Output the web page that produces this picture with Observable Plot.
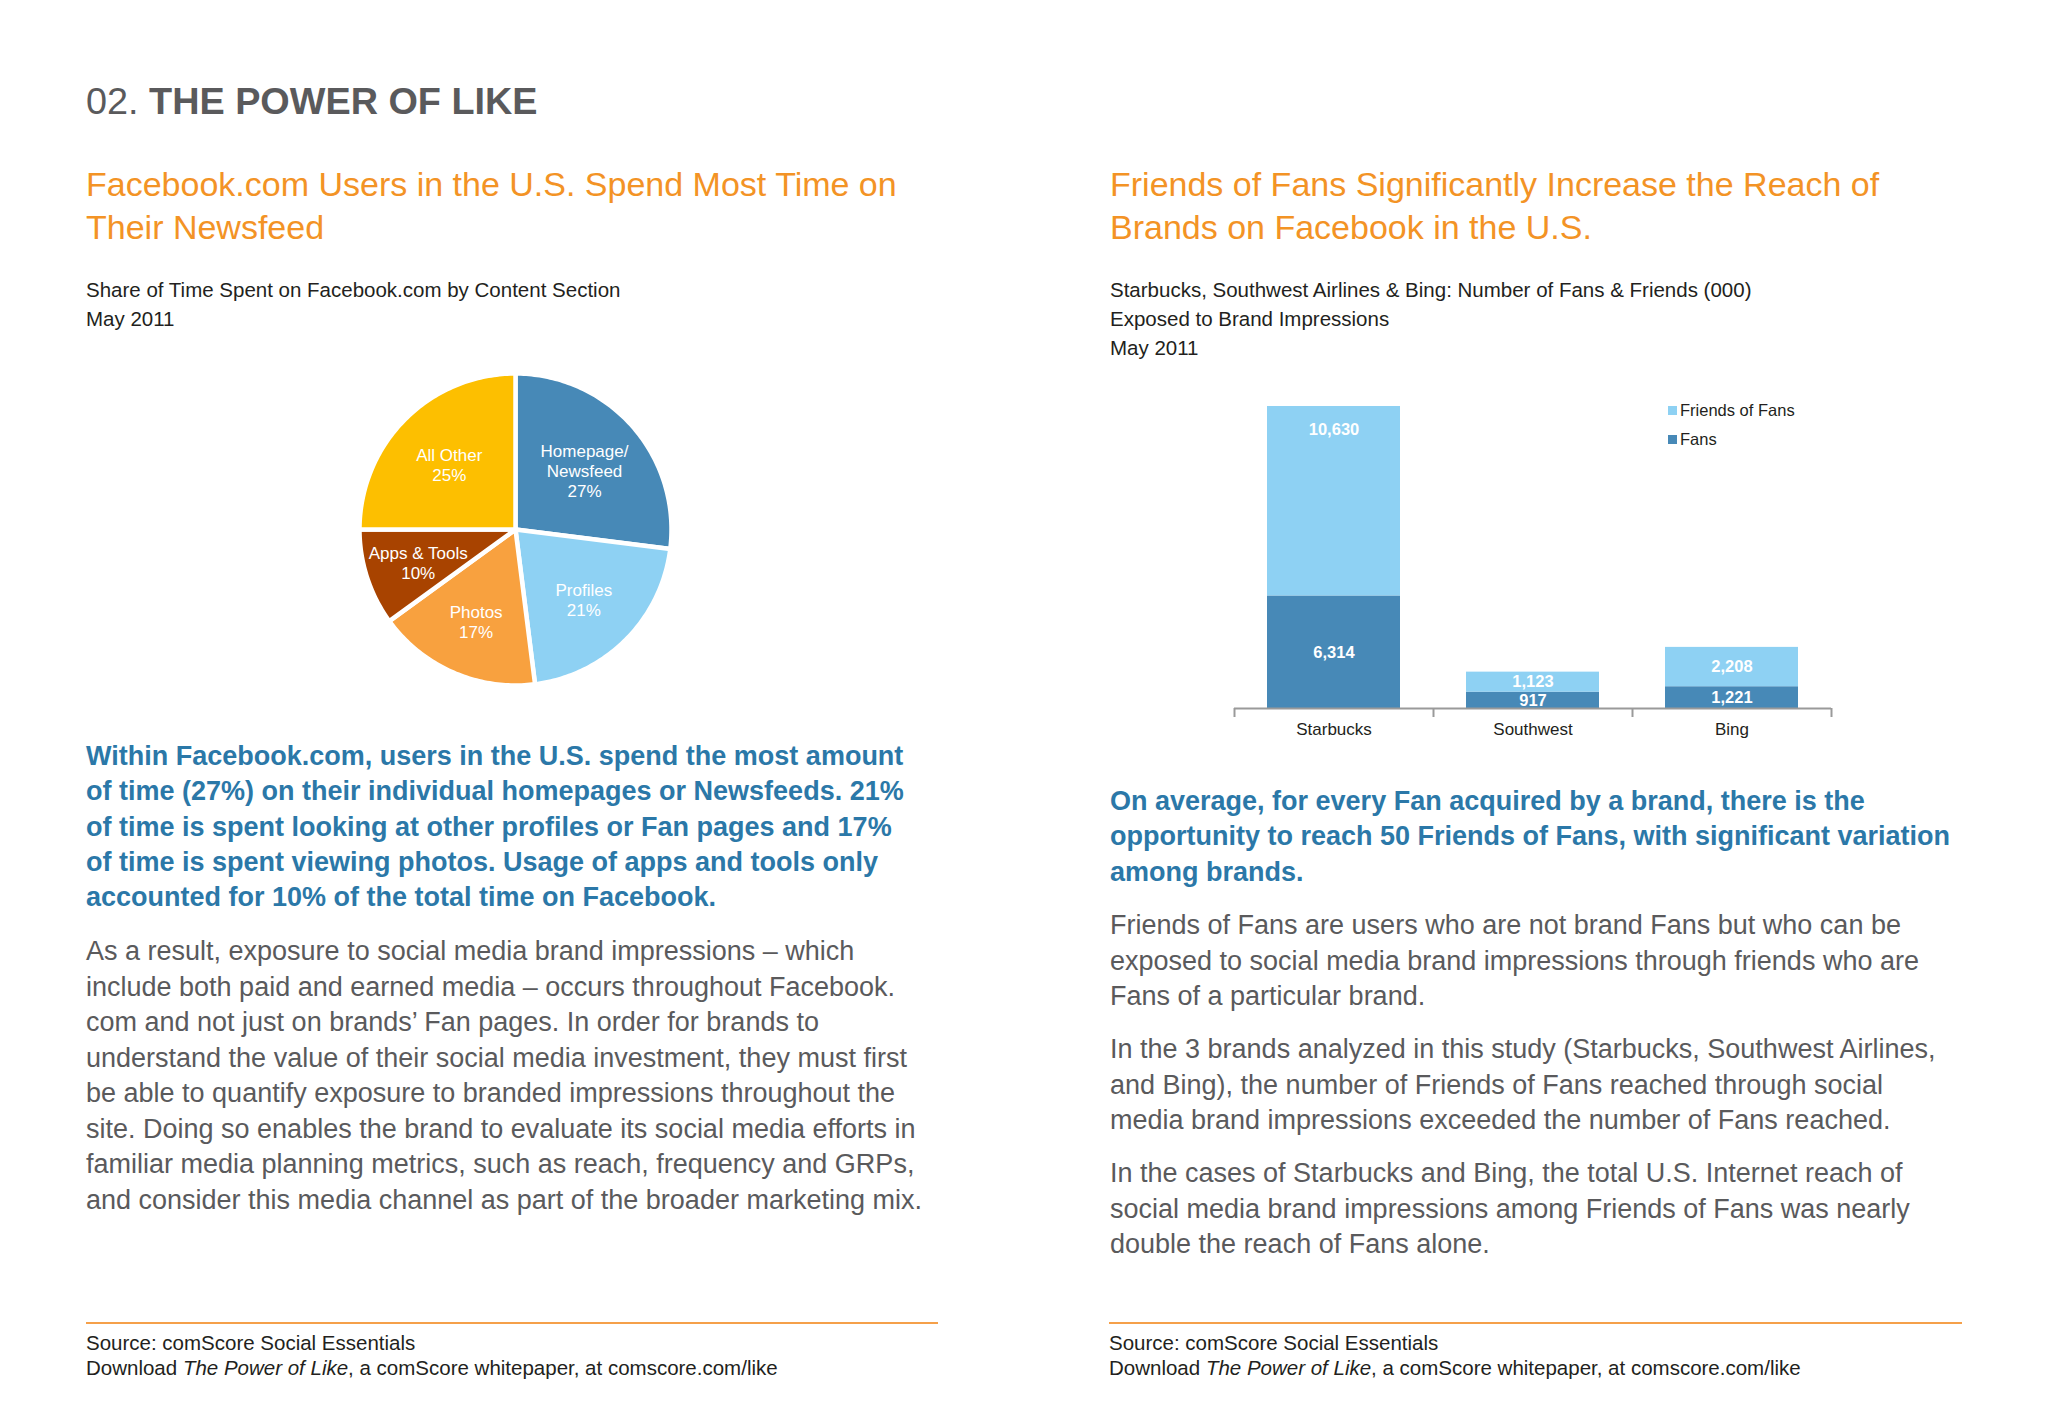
<!DOCTYPE html>
<html><head><meta charset="utf-8">
<script src="https://cdn.jsdelivr.net/npm/d3@7"></script>
<script src="https://cdn.jsdelivr.net/npm/@observablehq/plot@0.6"></script>
<style>
html,body{margin:0;padding:0;background:#fff;}
#page{position:relative;width:2048px;height:1408px;overflow:hidden;font-family:"Liberation Sans",Arial,Helvetica,sans-serif;background:#fff;}
.t{position:absolute;white-space:nowrap;}
.hdr{left:86px;top:79px;font-size:37.8px;line-height:44px;color:#5a5a5c;}
.hdr b{font-weight:700;}
.title{font-size:34px;line-height:43px;color:#f39325;top:163px;}
.sub{font-size:20.5px;line-height:29px;color:#231f20;top:275px;}
.lead{font-size:27px;line-height:35.3px;color:#2b78a8;font-weight:700;}
.body{font-size:27px;line-height:35.5px;color:#5a5a5c;}
.rule{position:absolute;top:1322px;height:2px;background:#f5a04a;}
.src{font-size:20.5px;line-height:25px;color:#231f20;top:1330px;}
.legend{position:absolute;font-size:16.5px;line-height:29px;color:#231f20;white-space:nowrap;}
.legend .sw{display:inline-block;width:9px;height:9px;margin-right:3px;vertical-align:1px;}
.chart{position:absolute;}
</style></head>
<body><div id="page">
<div class="t hdr">02. <b>THE POWER OF LIKE</b></div>

<div class="t title" style="left:86px">Facebook.com Users in the U.S. Spend Most Time on<br>Their Newsfeed</div>
<div class="t sub" style="left:86px">Share of Time Spent on Facebook.com by Content Section<br>May 2011</div>
<div class="t lead" style="left:86px;top:739px">Within Facebook.com, users in the U.S. spend the most amount<br>of time (27%) on their individual homepages or Newsfeeds. 21%<br>of time is spent looking at other profiles or Fan pages and 17%<br>of time is spent viewing photos. Usage of apps and tools only<br>accounted for 10% of the total time on Facebook.</div>
<div class="t body" style="left:86px;top:934px">As a result, exposure to social media brand impressions – which<br>include both paid and earned media – occurs throughout Facebook.<br>com and not just on brands’ Fan pages. In order for brands to<br>understand the value of their social media investment, they must first<br>be able to quantify exposure to branded impressions throughout the<br>site. Doing so enables the brand to evaluate its social media efforts in<br>familiar media planning metrics, such as reach, frequency and GRPs,<br>and consider this media channel as part of the broader marketing mix.</div>
<div class="rule" style="left:86px;width:852px"></div>
<div class="t src" style="left:86px">Source: comScore Social Essentials<br>Download <i>The Power of Like</i>, a comScore whitepaper, at comscore.com/like</div>

<div class="t title" style="left:1110px">Friends of Fans Significantly Increase the Reach of<br>Brands on Facebook in the U.S.</div>
<div class="t sub" style="left:1110px">Starbucks, Southwest Airlines &amp; Bing: Number of Fans &amp; Friends (000)<br>Exposed to Brand Impressions<br>May 2011</div>
<div class="t lead" style="left:1110px;top:784px">On average, for every Fan acquired by a brand, there is the<br>opportunity to reach 50 Friends of Fans, with significant variation<br>among brands.</div>
<div class="t body" style="left:1110px;top:908px">Friends of Fans are users who are not brand Fans but who can be<br>exposed to social media brand impressions through friends who are<br>Fans of a particular brand.</div>
<div class="t body" style="left:1110px;top:1032px">In the 3 brands analyzed in this study (Starbucks, Southwest Airlines,<br>and Bing), the number of Friends of Fans reached through social<br>media brand impressions exceeded the number of Fans reached.</div>
<div class="t body" style="left:1110px;top:1156px">In the cases of Starbucks and Bing, the total U.S. Internet reach of<br>social media brand impressions among Friends of Fans was nearly<br>double the reach of Fans alone.</div>
<div class="rule" style="left:1109px;width:853px"></div>
<div class="t src" style="left:1109px">Source: comScore Social Essentials<br>Download <i>The Power of Like</i>, a comScore whitepaper, at comscore.com/like</div>

<div id="pie" class="chart" style="left:345px;top:359px"></div>
<div id="bars" class="chart" style="left:1200px;top:380px"></div>
<div id="legend" class="legend" style="left:1668px;top:396px"></div>
</div>
<script>
// ---- Data: pie ----
const sections = ["Homepage/Newsfeed", "Profiles", "Photos", "Apps & Tools", "All Other"];
const sectionLabels = ["Homepage/\nNewsfeed", "Profiles", "Photos", "Apps & Tools", "All Other"];
const shares = [27, 21, 17, 10, 25];

// ---- Data: bars ----
const brands = ["Starbucks", "Southwest", "Bing"];
const fans = [6314, 917, 1221];
const friendsOfFans = [10630, 1123, 2208];
const seriesNames = ["Fans", "Friends of Fans"];

// ---- Styles ----
const pieColors = ["#4789b7", "#8ed1f3", "#f8a13f", "#a84300", "#fdbf00"];
const barColors = ["#4789b7", "#8ed1f3"];
const FONT = '"Liberation Sans", Arial, Helvetica, sans-serif';

// ---- Pie ----
const pieRows = sections.map((s, i) => ({section: s, label: sectionLabels[i], share: shares[i]}));
const arcs = d3.pie().sort(null).value(d => d.share)(pieRows);
const piePts = arcs.flatMap(a => {
  const n = Math.max(2, Math.ceil((a.endAngle - a.startAngle) / (Math.PI / 180)));
  const pts = [{section: a.data.section, x: 0, y: 0}];
  for (let k = 0; k <= n; k++) {
    const t = a.startAngle + (a.endAngle - a.startAngle) * k / n;
    pts.push({section: a.data.section, x: Math.sin(t), y: Math.cos(t)});
  }
  pts.push({section: a.data.section, x: 0, y: 0});
  return pts;
});
// labels at each sector's area centroid
const pieLabels = arcs.map(a => {
  const m = (a.startAngle + a.endAngle) / 2;
  const h = (a.endAngle - a.startAngle) / 2;
  const r = 2 * Math.sin(h) / (3 * h);
  return {x: r * Math.sin(m), y: r * Math.cos(m), text: `${a.data.label}\n${a.data.share}%`};
});
const pie = Plot.plot({
  width: 340, height: 340, margin: 14,
  style: {fontFamily: FONT, background: "transparent"},
  x: {domain: [-1, 1], axis: null},
  y: {domain: [-1, 1], axis: null},
  color: {domain: sections, range: pieColors},
  marks: [
    Plot.line(piePts, {x: "x", y: "y", z: "section", fill: "section", stroke: "white", strokeWidth: 4.5, strokeLinejoin: "round", curve: "linear"}),
    Plot.text(pieLabels, {x: "x", y: "y", dy: 1.5, text: "text", fill: "white", fontSize: 17, lineHeight: 1.18})
  ]
});
document.getElementById("pie").append(pie);

// ---- Bars ----
const barRows = brands.flatMap((b, i) => [
  {brand: b, series: seriesNames[0], value: fans[i]},
  {brand: b, series: seriesNames[1], value: friendsOfFans[i]}
]);
const totals = brands.map((b, i) => fans[i] + friendsOfFans[i]);
const BW = 680, BH = 380, mL = 34, mR = 49, mT = 26, mB = 52;
const step = (BW - mL - mR) / brands.length;
const yMax = d3.max(totals);
const pxPerUnit = (BH - mT - mB) / yMax;
const topInset = 23 / pxPerUnit;
const fanLabels = brands.map((b, i) => ({brand: b, y: fans[i] / 2, text: d3.format(",")(fans[i])}));
const fofLabels = brands.map((b, i) => ({brand: b, y: Math.max(fans[i] + friendsOfFans[i] / 2, totals[i] - topInset), text: d3.format(",")(friendsOfFans[i])}));
const bars = Plot.plot({
  width: BW, height: BH, marginLeft: mL, marginRight: mR, marginTop: mT, marginBottom: mB,
  style: {fontFamily: FONT, background: "transparent", color: "#231f20"},
  x: {domain: brands, paddingInner: 0.33, paddingOuter: 0.165, label: null},
  y: {domain: [0, yMax], axis: null},
  color: {domain: seriesNames, range: barColors},
  marks: [
    Plot.barY(barRows, {x: "brand", y: "value", fill: "series", order: seriesNames}),
    Plot.ruleY([0], {stroke: "#9a9a9a", strokeWidth: 2}),
    Plot.ruleX(brands, {x: d => d, y1: 0, y2: 0, insetBottom: -9, dx: -step / 2, stroke: "#9a9a9a", strokeWidth: 2}),
    Plot.ruleX(brands.slice(-1), {x: d => d, y1: 0, y2: 0, insetBottom: -9, dx: step / 2, stroke: "#9a9a9a", strokeWidth: 2}),
    Plot.text(fanLabels, {x: "brand", y: "y", text: "text", fill: "white", fontWeight: "bold", fontSize: 16.5}),
    Plot.text(fofLabels, {x: "brand", y: "y", text: "text", fill: "white", fontWeight: "bold", fontSize: 16.5}),
    Plot.axisX({tickSize: 0, tickPadding: 14, fontSize: 17, label: null})
  ]
});
document.getElementById("bars").append(bars);

// ---- Legend ----
const lg = document.getElementById("legend");
seriesNames.slice().reverse().forEach(name => {
  const row = document.createElement("div");
  const sw = document.createElement("span");
  sw.className = "sw";
  sw.style.background = barColors[seriesNames.indexOf(name)];
  row.append(sw, document.createTextNode(name));
  lg.append(row);
});
</script>
</body></html>
